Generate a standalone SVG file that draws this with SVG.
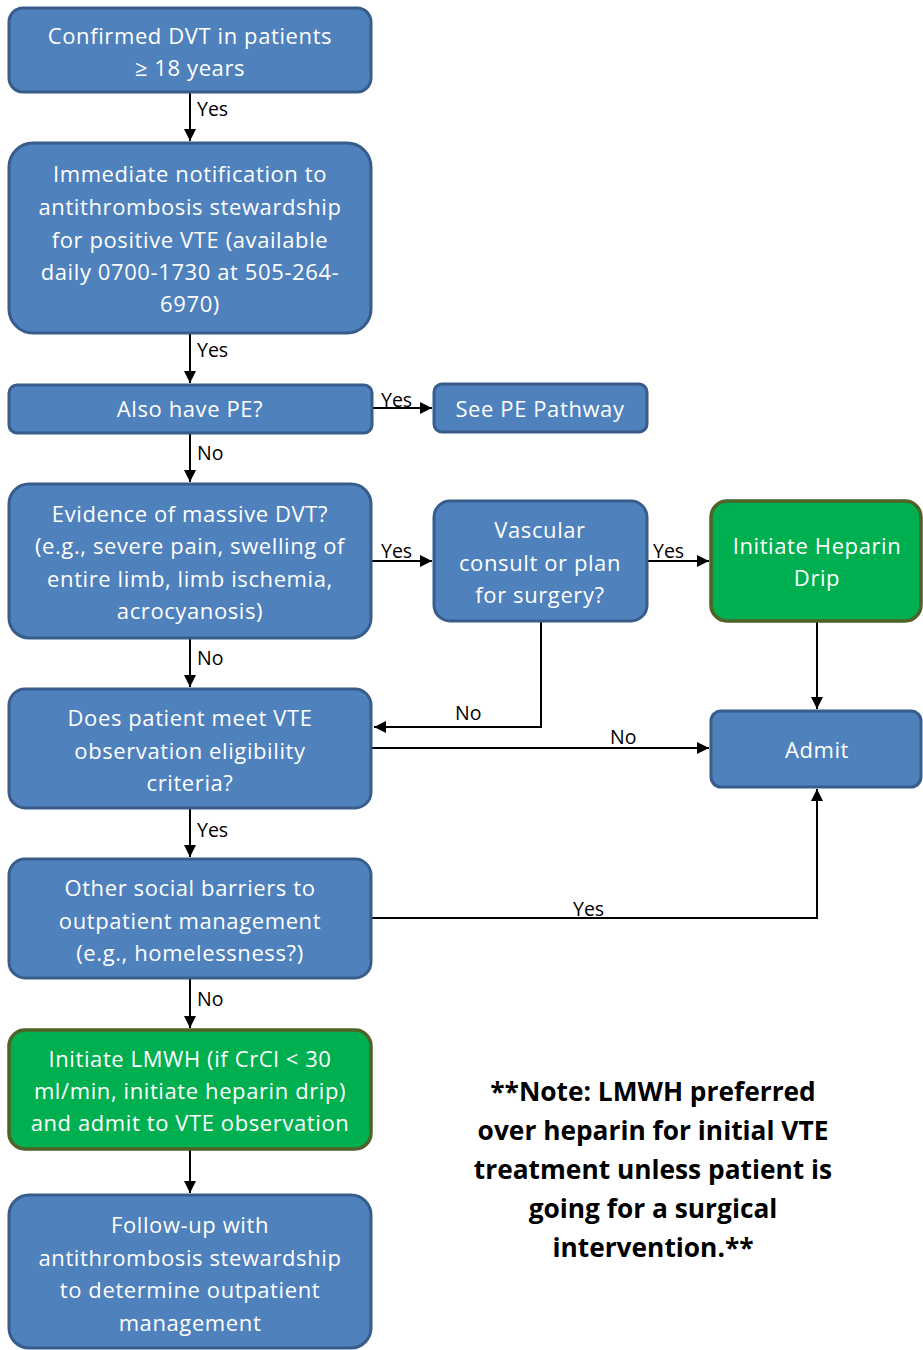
<svg xmlns="http://www.w3.org/2000/svg" width="923" height="1350" viewBox="0 0 923 1350">
<style>
.b{fill:#4f81bd;stroke:#385d8a;stroke-width:3}
.g{fill:#00b050;stroke:#4f6228;stroke-width:3.5}
.t{font-family:"Open Sans","Noto Sans",sans-serif;font-size:22px;letter-spacing:0.6px;fill:#ffffff;text-anchor:middle}
.l{font-family:"Open Sans","Noto Sans",sans-serif;font-size:19.5px;fill:#000000}
.c{fill:none;stroke:#000;stroke-width:2}
.n{font-family:"Open Sans","Noto Sans",sans-serif;font-size:26.3px;font-weight:bold;fill:#000;text-anchor:middle}
</style>
<defs>
<marker id="a" viewBox="0 0 12 12" refX="12" refY="6" markerWidth="12" markerHeight="12" markerUnits="userSpaceOnUse" orient="auto">
<path d="M0,0 L12,6 L0,12 z" fill="#000"/>
</marker>
</defs>
<g id="connectors">
<line class="c" x1="190" y1="93" x2="190" y2="141" marker-end="url(#a)"/>
<line class="c" x1="190" y1="334" x2="190" y2="383" marker-end="url(#a)"/>
<line class="c" x1="373" y1="408" x2="432" y2="408" marker-end="url(#a)"/>
<line class="c" x1="190" y1="434" x2="190" y2="482" marker-end="url(#a)"/>
<line class="c" x1="372" y1="561" x2="432" y2="561" marker-end="url(#a)"/>
<line class="c" x1="648" y1="561" x2="709" y2="561" marker-end="url(#a)"/>
<line class="c" x1="817" y1="622" x2="817" y2="709" marker-end="url(#a)"/>
<polyline class="c" points="541,622 541,727 374,727" marker-end="url(#a)"/>
<line class="c" x1="372" y1="748" x2="709" y2="748" marker-end="url(#a)"/>
<polyline class="c" points="372,918 817,918 817,789" marker-end="url(#a)"/>
<line class="c" x1="190" y1="639" x2="190" y2="687" marker-end="url(#a)"/>
<line class="c" x1="190" y1="809" x2="190" y2="857" marker-end="url(#a)"/>
<line class="c" x1="190" y1="979" x2="190" y2="1028" marker-end="url(#a)"/>
<line class="c" x1="190" y1="1150" x2="190" y2="1193" marker-end="url(#a)"/>
<text class="l" x="197" y="116">Yes</text>
<text class="l" x="197" y="357">Yes</text>
<text class="l" x="381" y="407">Yes</text>
<text class="l" x="197" y="460">No</text>
<text class="l" x="381" y="558">Yes</text>
<text class="l" x="653" y="558">Yes</text>
<text class="l" x="455" y="720">No</text>
<text class="l" x="610" y="744">No</text>
<text class="l" x="573" y="916">Yes</text>
<text class="l" x="197" y="665">No</text>
<text class="l" x="197" y="837">Yes</text>
<text class="l" x="197" y="1006">No</text>
</g>
<g id="n1"><rect class="b" x="9" y="8" width="362" height="84" rx="14"/>
<text class="t" x="190" y="44">Confirmed DVT in patients</text>
<text class="t" x="190" y="76">≥ 18 years</text></g>
<g id="n2"><rect class="b" x="9" y="143" width="362" height="190" rx="24"/>
<text class="t" x="190" y="182">Immediate notification to</text>
<text class="t" x="190" y="215">antithrombosis stewardship</text>
<text class="t" x="190" y="248">for positive VTE (available</text>
<text class="t" x="190" y="280">daily 0700-1730 at 505-264-</text>
<text class="t" x="190" y="312">6970)</text></g>
<g id="n3"><rect class="b" x="9" y="385" width="363" height="48" rx="8"/>
<text class="t" x="190" y="417">Also have PE?</text></g>
<g id="n4"><rect class="b" x="434" y="384" width="213" height="48" rx="8"/>
<text class="t" x="540" y="417">See PE Pathway</text></g>
<g id="n5"><rect class="b" x="9" y="484" width="362" height="154" rx="20"/>
<text class="t" x="190" y="522">Evidence of massive DVT?</text>
<text class="t" x="190" y="554">(e.g., severe pain, swelling of</text>
<text class="t" x="190" y="587">entire limb, limb ischemia,</text>
<text class="t" x="190" y="619">acrocyanosis)</text></g>
<g id="n6"><rect class="b" x="434" y="501" width="213" height="120" rx="16"/>
<text class="t" x="540" y="538">Vascular</text>
<text class="t" x="540" y="571">consult or plan</text>
<text class="t" x="540" y="603">for surgery?</text></g>
<g id="n7"><rect class="g" x="711" y="501" width="210" height="120" rx="16"/>
<text class="t" x="817" y="554">Initiate Heparin</text>
<text class="t" x="817" y="586">Drip</text></g>
<g id="n8"><rect class="b" x="9" y="689" width="362" height="119" rx="16"/>
<text class="t" x="190" y="726">Does patient meet VTE</text>
<text class="t" x="190" y="759">observation eligibility</text>
<text class="t" x="190" y="791">criteria?</text></g>
<g id="n9"><rect class="b" x="711" y="711" width="210" height="76" rx="10"/>
<text class="t" x="817" y="758">Admit</text></g>
<g id="n10"><rect class="b" x="9" y="859" width="362" height="119" rx="16"/>
<text class="t" x="190" y="896">Other social barriers to</text>
<text class="t" x="190" y="929">outpatient management</text>
<text class="t" x="190" y="961">(e.g., homelessness?)</text></g>
<g id="n11"><rect class="g" x="9" y="1030" width="362" height="119" rx="16"/>
<text class="t" x="190" y="1067">Initiate LMWH (if CrCl &lt; 30</text>
<text class="t" x="190" y="1099">ml/min, initiate heparin drip)</text>
<text class="t" x="190" y="1131">and admit to VTE observation</text></g>
<g id="n12"><rect class="b" x="9" y="1195" width="362" height="153" rx="20"/>
<text class="t" x="190" y="1233">Follow-up with</text>
<text class="t" x="190" y="1266">antithrombosis stewardship</text>
<text class="t" x="190" y="1298">to determine outpatient</text>
<text class="t" x="190" y="1331">management</text></g>
<g id="note">
<text class="n" x="653" y="1101">**Note: LMWH preferred</text>
<text class="n" x="653" y="1140">over heparin for initial VTE</text>
<text class="n" x="653" y="1179">treatment unless patient is</text>
<text class="n" x="653" y="1218">going for a surgical</text>
<text class="n" x="653" y="1257">intervention.**</text>
</g>
</svg>
